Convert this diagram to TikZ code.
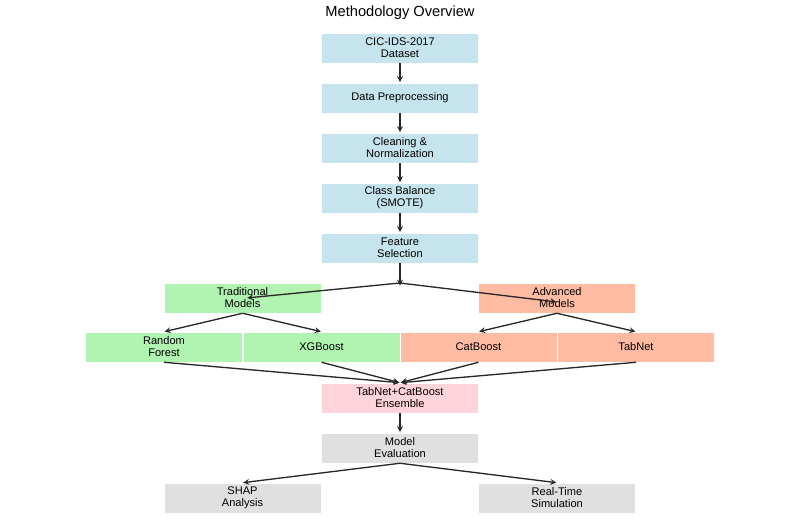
\documentclass[tikz,border=0pt]{standalone}
\usepackage{fontspec}
\setmainfont{Liberation Sans}
\usepackage{xcolor}
\usepackage{tikz}
\usetikzlibrary{arrows}

\definecolor{stepblue}{RGB}{198,228,238}
\definecolor{tradgreen}{RGB}{177,243,177}
\definecolor{advsalmon}{RGB}{255,188,162}
\definecolor{enspink}{RGB}{255,211,218}
\definecolor{evalgray}{RGB}{224,224,224}
\definecolor{linegray}{RGB}{40,40,40}

\begin{document}
\begin{tikzpicture}[x=0.75pt,y=-0.75pt,
    every node/.style={font=\fontsize{8.3}{9}\selectfont, align=center, inner sep=0pt},
    box/.style={minimum width=118pt, minimum height=22.5pt, draw=white, line width=0.4pt},
    flow/.style={->, >=stealth, draw=linegray, line width=1pt, shorten >=0.5pt}]
                \useasboundingbox (0,0) rectangle (800,530);
                \node (title) at (400,13) {\fontsize{11}{12}\selectfont Methodology Overview};
                % pipeline
                \node [box, fill=stepblue] (data) at (400,48) {CIC-IDS-2017\\Dataset};
                \node [box, fill=stepblue] (prep) at (400,98) {Data Preprocessing};
                \node [box, fill=stepblue] (clean) at (400,148) {Cleaning \&\\Normalization};
                \node [box, fill=stepblue] (smote) at (400,198) {Class Balance\\(SMOTE)};
                \node [box, fill=stepblue] (feat) at (400,248) {Feature\\Selection};
                \coordinate (split) at (400,283);
                % model groups
                \node [box, fill=tradgreen] (trad) at (242.5,298) {Traditional\\Models};
                \node [box, fill=advsalmon] (adv) at (557,298) {Advanced\\Models};
                \node [box, fill=tradgreen] (rf) at (164,347) {Random\\Forest};
                \node [box, fill=tradgreen] (xgb) at (321.5,347) {XGBoost};
                \node [box, fill=advsalmon] (cat) at (478.5,347) {CatBoost};
                \node [box, fill=advsalmon] (tabnet) at (636,347) {TabNet};
                % ensemble and evaluation
                \node [box, fill=enspink] (ens) at (400,398) {TabNet+CatBoost\\Ensemble};
                \node [box, fill=evalgray] (eval) at (400,448) {Model\\Evaluation};
                \node [box, fill=evalgray] (shap) at (242.5,498) {SHAP\\Analysis};
                \node [box, fill=evalgray] (rts) at (557,498) {Real-Time\\Simulation};
                % arrows
                \draw [flow] (data) -- (prep);
                \draw [flow] (prep) -- (clean);
                \draw [flow] (clean) -- (smote);
                \draw [flow] (smote) -- (feat);
                \draw [flow] (feat) -- ([yshift=-2.5pt]split);
                \draw [flow] (split) -- ([xshift=3pt]trad.center);
                \draw [flow] (split) -- ([yshift=-3pt]adv.center);
                \draw [flow] (trad.south) -- (rf.north);
                \draw [flow] (trad.south) -- (xgb.north);
                \draw [flow] (adv.south) -- (cat.north);
                \draw [flow] (adv.south) -- (tabnet.north);
                \draw [flow] (rf.south) -- (ens.north);
                \draw [flow] (xgb.south) -- (ens.north);
                \draw [flow] (cat.south) -- (ens.north);
                \draw [flow] (tabnet.south) -- (ens.north);
                \draw [flow] (ens) -- (eval);
                \draw [flow] (eval.south) -- (shap.north);
                \draw [flow] (eval.south) -- (rts.north);
\end{tikzpicture}
\end{document}
